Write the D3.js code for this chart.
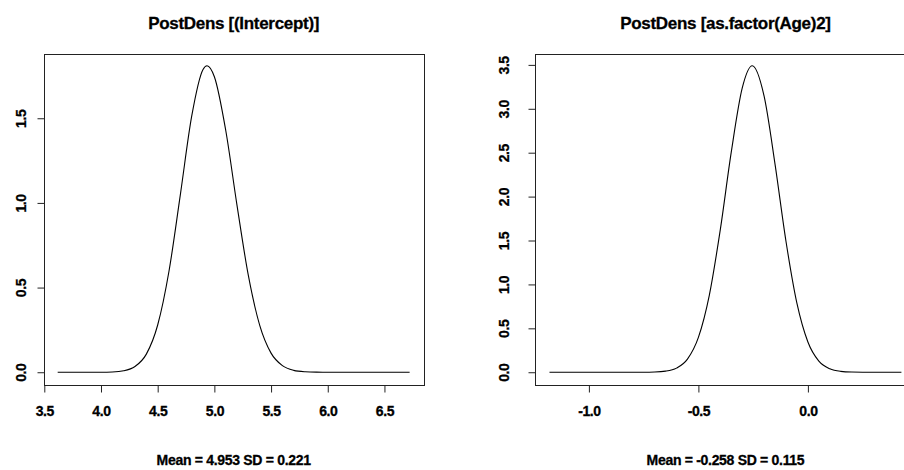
<!DOCTYPE html>
<html>
<head>
<meta charset="utf-8">
<script src="https://cdn.jsdelivr.net/npm/d3@7"></script>
<style>
  body { margin: 0; background: #fff; }
  svg text { font-family: "Liberation Sans", Arial, sans-serif; font-weight: bold; fill: #000;
             stroke: #000; stroke-width: 0.3px; }
</style>
</head>
<body>
<div id="chart"></div>
<script>
// posterior density of (Intercept)
var interceptX = [3.618, 4.0, 4.1, 4.2, 4.3, 4.4, 4.5, 4.6, 4.7, 4.8, 4.9, 4.935,
                  5.0, 5.1, 5.2, 5.3, 5.4, 5.5, 5.6, 5.7, 5.8, 5.9, 6.0, 6.722];
var interceptY = [0, 0.0003, 0.0018, 0.0087, 0.034, 0.107, 0.279, 0.598, 1.049, 1.512, 1.788, 1.81,
                  1.745, 1.429, 0.984, 0.570, 0.277, 0.113, 0.039, 0.0112, 0.0028, 0.0005, 0.0001, 0];

// posterior density of as.factor(Age)2
var ageX = [-1.18, -0.75, -0.70, -0.65, -0.60, -0.55, -0.50, -0.45, -0.40, -0.35, -0.30, -0.254,
            -0.20, -0.15, -0.10, -0.05, 0.00, 0.05, 0.10, 0.15, 0.20, 0.25, 0.427];
var ageY = [0, 0.0005, 0.0028, 0.0125, 0.047, 0.150, 0.397, 0.879, 1.624, 2.506, 3.235, 3.49,
            3.143, 2.367, 1.489, 0.783, 0.344, 0.126, 0.039, 0.0099, 0.0021, 0.0004, 0];

var interceptXTicks = [3.5, 4.0, 4.5, 5.0, 5.5, 6.0, 6.5];
var interceptYTicks = [0, 0.5, 1.0, 1.5];
var ageXTicks = [-1.0, -0.5, 0.0];
var ageYTicks = [0, 0.5, 1.0, 1.5, 2.0, 2.5, 3.0, 3.5];

var titles = ["PostDens [(Intercept)]", "PostDens [as.factor(Age)2]"];
var summaries = ["Mean = 4.953 SD = 0.221", "Mean = -0.258 SD = 0.115"];

//********************************************************************//
//                    DRAWING
//********************************************************************//

var width = 904, height = 470;

var svg = d3.select("#chart")
            .append("svg")
            .attr("width", width)
            .attr("height", height)
            .style("display", "block");

svg.append("rect").attr("width", width).attr("height", height).attr("fill", "#fff");

drawPanel({xs: interceptX, ys: interceptY, xTicks: interceptXTicks, yTicks: interceptYTicks,
           title: titles[0], summary: summaries[0], left: 43.6, labelGap: 18.6});
drawPanel({xs: ageX, ys: ageY, xTicks: ageXTicks, yTicks: ageYTicks,
           title: titles[1], summary: summaries[1], left: 535.4, labelGap: 27});

function drawPanel({xs, ys, xTicks, yTicks, title, summary, left, labelGap,
                    plotW = 380.1, top = 53.5, bottom = 384.5}) {

  // R style: data range padded by 4% on each side
  var xr = d3.extent(xs), yr = d3.extent(ys);
  var xp = (xr[1] - xr[0]) * 0.04, yp = (yr[1] - yr[0]) * 0.04;

  var x = d3.scaleLinear().domain([xr[0] - xp, xr[1] + xp]).range([left, left + plotW]);
  var y = d3.scaleLinear().domain([yr[0] - yp, yr[1] + yp]).range([bottom, top]);

  var g = svg.append("g");
  var cx = left + plotW / 2;

  // title
  g.append("text")
   .attr("x", cx)
   .attr("y", 28.5)
   .attr("text-anchor", "middle")
   .style("font-size", "17px")
   .style("letter-spacing", "-0.3px")
   .text(title);

  // curve
  var line = d3.line()
               .x(function(d, i) { return x(xs[i]); })
               .y(function(d) { return y(d); })
               .curve(d3.curveMonotoneX);

  g.append("path")
   .attr("d", line(ys))
   .attr("fill", "none")
   .attr("stroke", "#000")
   .attr("stroke-width", 1.1);

  // box
  g.append("rect")
   .attr("x", Math.round(left) + 0.5)
   .attr("y", Math.round(top) + 0.5)
   .attr("width", Math.round(plotW))
   .attr("height", Math.round(bottom - top))
   .attr("fill", "none")
   .attr("stroke", "#222")
   .attr("stroke-width", 1);

  // x axis
  var xAxis = g.append("g")
               .attr("transform", "translate(0," + (Math.round(bottom) + 0.5) + ")")
               .call(d3.axisBottom(x).tickValues(xTicks).tickSize(7)
                       .tickFormat(function(d) { return d.toFixed(1); }));
  xAxis.select(".domain").remove();
  xAxis.selectAll("line").attr("stroke", "#222");
  xAxis.selectAll("text")
       .attr("y", 30.5)
       .attr("dy", 0)
       .style("font-size", "14px")
       .style("font-family", "Liberation Sans, Arial, sans-serif")
       .style("letter-spacing", "-0.4px");

  // y axis, labels turned like R does
  var yAxis = g.append("g")
               .attr("transform", "translate(" + (Math.round(left) + 0.5) + ",0)")
               .call(d3.axisLeft(y).tickValues(yTicks).tickSize(7)
                       .tickFormat(function(d) { return d.toFixed(1); }));
  yAxis.select(".domain").remove();
  yAxis.selectAll("line").attr("stroke", "#222");
  yAxis.selectAll("text")
       .attr("transform", "rotate(-90)")
       .attr("x", 0)
       .attr("y", -labelGap)
       .attr("dy", 0)
       .attr("text-anchor", "middle")
       .style("font-size", "14px")
       .style("font-family", "Liberation Sans, Arial, sans-serif")
       .style("letter-spacing", "-0.4px");

  // summary under the plot
  g.append("text")
   .attr("x", cx)
   .attr("y", 465)
   .attr("text-anchor", "middle")
   .style("font-size", "14px")
   .style("letter-spacing", "-0.3px")
   .text(summary);
}
</script>
</body>
</html>
